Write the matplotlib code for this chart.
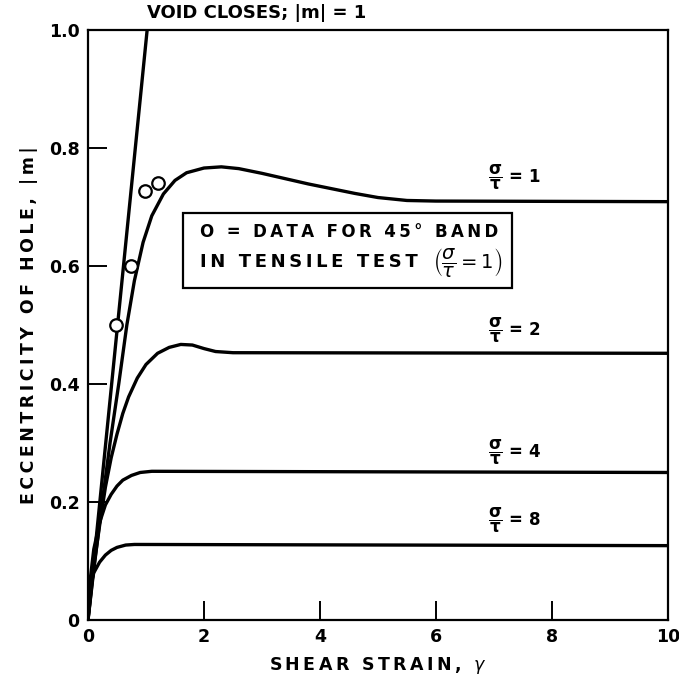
import matplotlib
matplotlib.use("Agg")
from matplotlib import pyplot as plt

void_g = [0, 1.02]
void_m = [0, 1.0]

s1_g = [0, 0.1, 0.2, 0.38, 0.53, 0.67, 0.8, 0.95, 1.1, 1.3, 1.5, 1.7, 2.0, 2.3, 2.6,
        3.0, 3.4, 3.8, 4.2, 4.6, 5.0, 5.5, 6.0, 10]
s1_m = [0, 0.085, 0.165, 0.30, 0.40, 0.50, 0.575, 0.64, 0.685, 0.722, 0.745, 0.758,
        0.766, 0.768, 0.765, 0.757, 0.748, 0.739, 0.731, 0.723, 0.716, 0.711, 0.710, 0.709]

s2_g = [0, 0.1, 0.2, 0.3, 0.4, 0.5, 0.6, 0.7, 0.85, 1.0, 1.2, 1.4, 1.6, 1.8, 2.0, 2.2,
        2.5, 10]
s2_m = [0, 0.09, 0.16, 0.225, 0.275, 0.315, 0.35, 0.378, 0.41, 0.433, 0.452, 0.462, 0.467,
        0.466, 0.46, 0.455, 0.453, 0.452]

s4_g = [0, 0.04, 0.1, 0.2, 0.3, 0.4, 0.5, 0.6, 0.75, 0.9, 1.1, 10]
s4_m = [0, 0.07, 0.12, 0.165, 0.195, 0.213, 0.227, 0.237, 0.245, 0.25, 0.252, 0.25]

s8_g = [0, 0.02, 0.05, 0.1, 0.2, 0.3, 0.4, 0.5, 0.65, 0.8, 10]
s8_m = [0, 0.035, 0.06, 0.08, 0.098, 0.11, 0.118, 0.123, 0.127, 0.128, 0.126]

data_g = [0.48, 0.74, 0.98, 1.2]
data_m = [0.50, 0.60, 0.727, 0.741]

ratios = ["1", "2", "4", "8"]
label_m = [0.75, 0.49, 0.284, 0.169]

x_ticks = [0, 2, 4, 6, 8, 10]
y_ticks = [0, 0.2, 0.4, 0.6, 0.8, 1.0]
y_ticklabels = ["0", "0.2", "0.4", "0.6", "0.8", "1.0"]


def spaced(s):
    # the old lettering is wide, so put thin spaces between the characters
    return "\u2009".join(s)


def main():
    plt.rcParams['font.family'] = ['DejaVu Sans']
    plt.rcParams['mathtext.fontset'] = 'dejavusans'
    fig = plt.figure(figsize=(6.79, 6.81), dpi=100)
    ax = fig.add_axes([0.1296, 0.0896, 0.854, 0.8664])

    lw = 2.4
    ax.plot(void_g, void_m, color='black', lw=lw, solid_capstyle='butt')
    ax.plot(s1_g, s1_m, color='black', lw=lw)
    ax.plot(s2_g, s2_m, color='black', lw=lw)
    ax.plot(s4_g, s4_m, color='black', lw=lw)
    ax.plot(s8_g, s8_m, color='black', lw=lw)
    ax.plot(data_g, data_m, 'o', ms=9, mfc='white', mec='black', mew=1.6, zorder=5)

    ax.set_xlim(0, 10)
    ax.set_ylim(0, 1.0)
    ax.set_xticks(x_ticks)
    ax.set_xticklabels([str(t) for t in x_ticks])
    ax.set_yticks(y_ticks)
    ax.set_yticklabels(y_ticklabels)
    ax.tick_params(direction='in', length=14, width=1.4, labelsize=12.5, pad=6)
    for sp in ax.spines.values():
        sp.set_linewidth(1.6)

    ax.set_xlabel(spaced("SHEAR STRAIN,") + r"  $\gamma$", fontsize=12.5,
                  fontweight='bold', labelpad=6)
    ax.set_ylabel(spaced("ECCENTRICITY OF HOLE, |m|"), fontsize=12.5,
                  fontweight='bold', labelpad=8)
    for lab in ax.get_xticklabels() + ax.get_yticklabels():
        lab.set_fontweight('bold')

    ax.text(1.02, 1.029, "VOID CLOSES; |m| = 1", fontsize=13, fontweight='bold',
            ha='left', va='center', clip_on=False)

    for r, ym in zip(ratios, label_m):
        ax.text(6.9, ym, r"$\mathbf{\dfrac{\sigma}{\tau}}$" + " = " + r, fontsize=12,
                fontweight='bold', ha='left', va='center')

    ax.text(1.93, 0.657, spaced("O = DATA FOR 45° BAND"), fontsize=12, fontweight='bold',
            ha='left', va='center')
    ax.text(1.93, 0.606, spaced("IN TENSILE TEST"),
            fontsize=13, fontweight='bold', ha='left', va='center')
    ax.text(5.95, 0.606, r"$\left(\dfrac{\sigma}{\tau} = 1\right)$",
            fontsize=14, ha='left', va='center')
    box = plt.Rectangle((1.64, 0.562), 7.31 - 1.64, 0.689 - 0.562, fill=False,
                        lw=1.6, color='black')
    ax.add_patch(box)

    fig.savefig("out.png", dpi=100)


if __name__ == '__main__':
    main()
